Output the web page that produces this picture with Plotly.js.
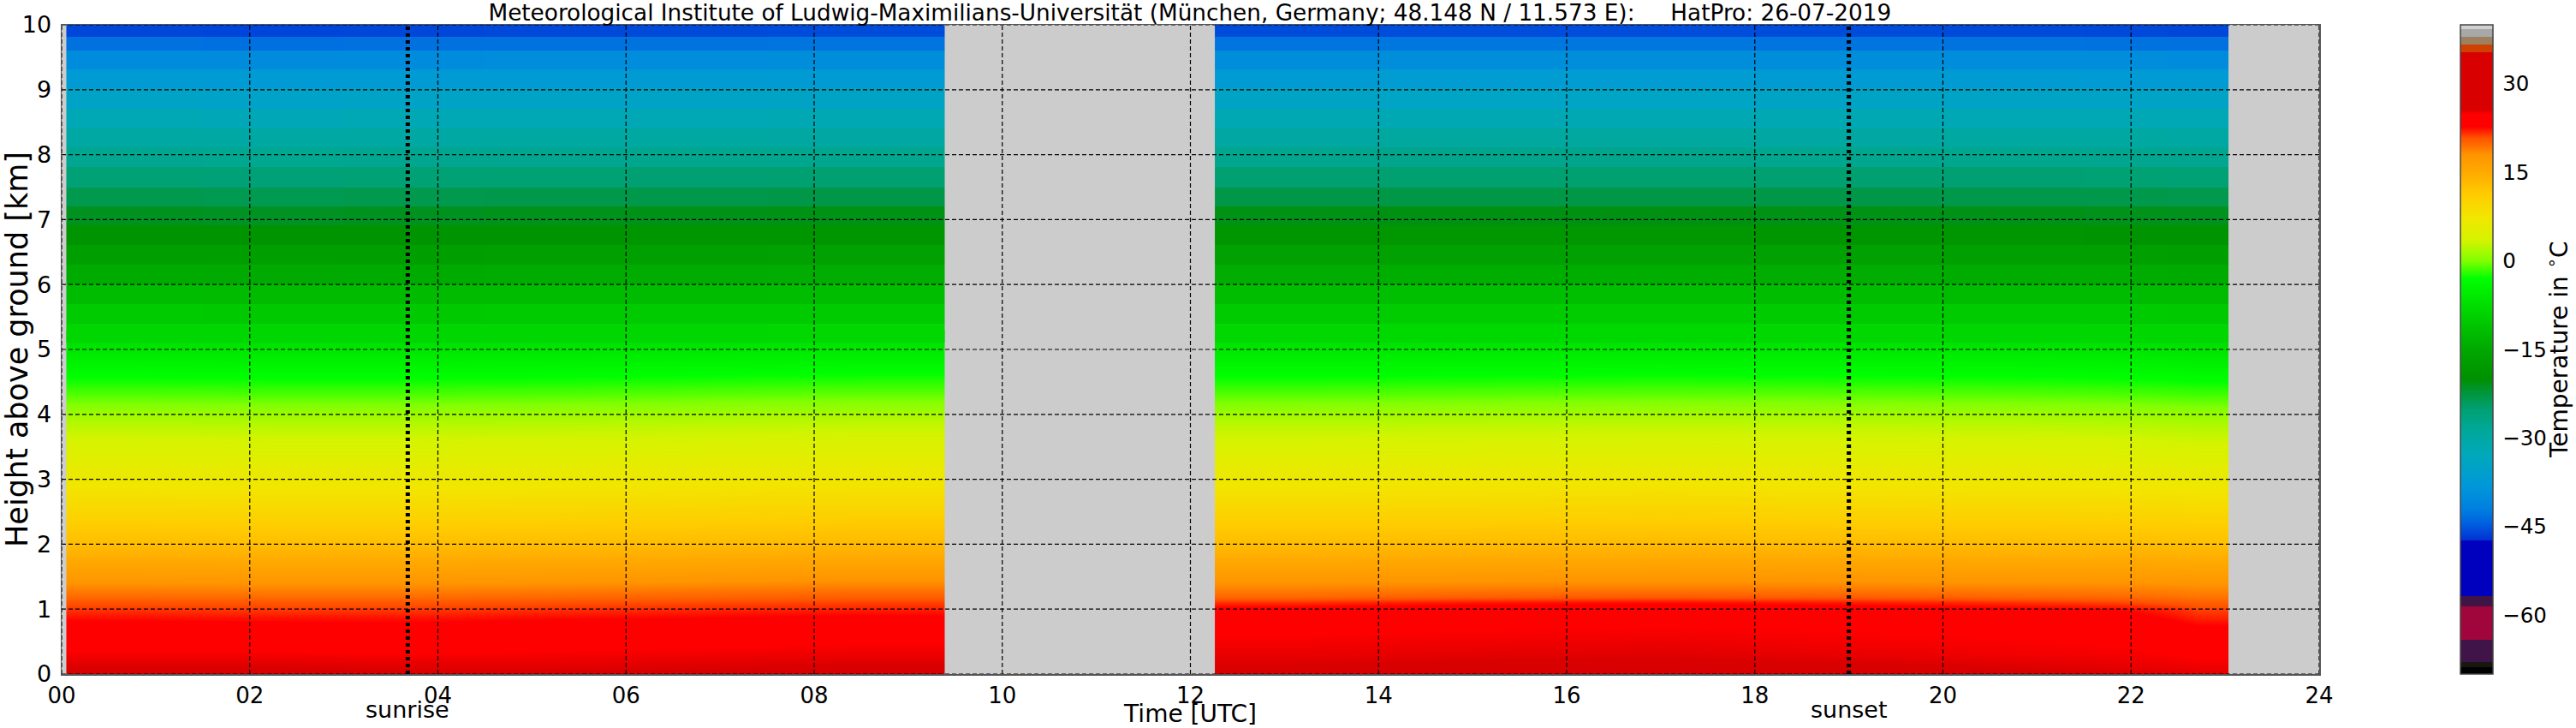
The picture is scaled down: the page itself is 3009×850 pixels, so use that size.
<!DOCTYPE html>
<html>
<head>
<meta charset="utf-8">
<script src="https://cdn.plot.ly/plotly-3.0.1.min.js"></script>
<style>html,body{margin:0;padding:0;background:#fff;}</style>
</head>
<body>
<div id="chart" style="width:3009px;height:850px;"></div>
<script>
// ---------------- DATA ----------------
const titleText = 'Meteorological Institute of Ludwig-Maximilians-Universität (München, Germany; 48.148 N / 11.573 E):\u00a0\u00a0\u00a0\u00a0\u00a0HatPro: 26-07-2019';
const colorbarTitle = 'Temperature in <sup>∘</sup>C';

// time column edges [UTC hours] of the two measurement periods
const seg1Edges = [0.05, 1.5, 3.0, 4.5, 6.0, 7.5, 9.39];
const seg2Edges = [12.26, 14.0, 16.0, 18.0, 20.0, 21.5, 22.4, 23.04];

// lower troposphere: level centres [km] (smooth shading)
const lowHeights = [0.0, 0.15, 0.3, 0.5, 0.7, 0.85, 1.0, 1.1, 1.2, 1.35, 1.5, 1.75, 2.0, 2.5, 3.0, 3.5, 3.9, 4.3, 4.7, 5.1];
// upper troposphere: band edges [km]
const highEdges = [5.1, 5.4, 5.7, 6.0, 6.3, 6.61, 6.91, 7.2, 7.5, 7.81, 8.12, 8.4, 8.71, 9.02, 9.31, 9.61, 9.81, 10.0];

// temperature [°C], rows = heights, columns = time columns
const seg1Low = [
  [25.9, 25.9, 25.7, 25.7, 25.8, 26.0],
  [25.5, 25.5, 25.4, 25.4, 25.5, 25.6],
  [25.0, 25.0, 24.9, 25.0, 25.1, 25.2],
  [24.4, 24.3, 24.2, 24.4, 24.6, 24.8],
  [23.4, 23.3, 23.2, 23.4, 23.7, 23.9],
  [22.5, 22.4, 22.4, 22.6, 22.8, 23.0],
  [21.5, 21.4, 21.4, 21.6, 21.8, 22.0],
  [20.7, 20.6, 20.6, 20.8, 21.0, 21.2],
  [19.7, 19.6, 19.6, 19.8, 20.0, 20.2],
  [18.4, 18.3, 18.3, 18.4, 18.6, 18.8],
  [17.1, 17.0, 17.0, 17.1, 17.3, 17.5],
  [15.1, 15.0, 15.0, 15.1, 15.3, 15.5],
  [12.9, 12.8, 12.8, 12.9, 13.1, 13.3],
  [9.8, 9.7, 9.7, 9.8, 10.0, 10.2],
  [6.8, 6.7, 6.7, 6.8, 7.0, 7.2],
  [4.2, 4.1, 4.1, 4.2, 4.4, 4.6],
  [2.0, 1.9, 1.9, 2.0, 2.2, 2.4],
  [-1.0, -1.1, -1.1, -1.0, -0.8, -0.6],
  [-3.9, -4.0, -4.0, -3.9, -3.7, -3.5],
  [-7.0, -7.1, -7.1, -7.0, -6.9, -6.7]
];
const seg2Low = [
  [25.9, 26.2, 26.4, 26.1, 25.8, 25.6, 25.4],
  [25.6, 25.8, 25.9, 25.7, 25.5, 25.3, 25.1],
  [25.3, 25.4, 25.5, 25.3, 25.1, 25.0, 24.7],
  [25.0, 25.1, 25.2, 25.0, 24.9, 24.7, 24.1],
  [24.7, 24.8, 24.9, 24.8, 24.6, 24.1, 23.0],
  [24.2, 24.4, 24.5, 24.3, 24.0, 23.3, 22.0],
  [23.2, 23.6, 23.8, 23.5, 23.0, 22.5, 21.2],
  [21.6, 22.2, 22.4, 22.1, 21.6, 21.1, 20.2],
  [19.8, 20.2, 20.4, 20.2, 19.9, 19.7, 19.3],
  [18.4, 18.6, 18.7, 18.6, 18.5, 18.4, 18.2],
  [17.2, 17.3, 17.4, 17.3, 17.2, 17.1, 16.9],
  [15.2, 15.3, 15.4, 15.3, 15.2, 15.1, 14.9],
  [13.0, 13.1, 13.2, 13.1, 13.0, 12.9, 12.7],
  [9.9, 10.0, 10.1, 10.0, 9.9, 9.8, 9.5],
  [6.9, 7.0, 7.1, 7.0, 6.9, 6.7, 6.4],
  [4.3, 4.4, 4.5, 4.4, 4.3, 4.1, 3.8],
  [2.1, 2.2, 2.3, 2.2, 2.1, 1.9, 1.6],
  [-0.9, -0.8, -0.7, -0.8, -0.9, -1.1, -1.4],
  [-3.8, -3.7, -3.6, -3.7, -3.8, -4.0, -4.3],
  [-6.9, -6.8, -6.7, -6.8, -6.9, -7.1, -7.4]
];
const seg1High = [
  [-8.5, -8.6, -8.6, -8.5, -8.4, -8.3],
  [-10.2, -10.3, -10.3, -10.2, -10.1, -10.0],
  [-12.2, -12.3, -12.3, -12.2, -12.1, -12.0],
  [-14.6, -14.7, -14.6, -14.5, -14.4, -14.3],
  [-16.8, -16.9, -16.8, -16.7, -16.6, -16.5],
  [-19.0, -19.2, -19.0, -18.9, -18.8, -18.7],
  [-21.2, -21.4, -21.2, -21.0, -20.9, -20.8],
  [-23.3, -23.4, -23.3, -23.2, -23.1, -23.0],
  [-25.4, -25.5, -25.4, -25.3, -25.2, -25.1],
  [-27.8, -27.9, -27.8, -27.7, -27.6, -27.5],
  [-29.9, -30.0, -29.9, -29.8, -29.7, -29.6],
  [-32.3, -32.4, -32.3, -32.2, -32.1, -32.0],
  [-34.8, -34.9, -34.8, -34.7, -34.6, -34.5],
  [-37.3, -37.4, -37.3, -37.2, -37.1, -37.0],
  [-40.0, -40.1, -40.0, -39.9, -39.8, -39.7],
  [-43.2, -43.3, -43.2, -43.1, -43.0, -42.9],
  [-46.0, -46.1, -46.0, -45.9, -45.8, -45.7]
];
const seg2High = [
  [-8.3, -8.2, -8.2, -8.3, -8.4, -8.5, -8.6],
  [-10.0, -9.9, -9.9, -10.0, -10.1, -10.2, -10.3],
  [-12.0, -11.9, -11.9, -12.0, -12.1, -12.2, -12.3],
  [-14.3, -14.2, -14.2, -14.3, -14.4, -14.5, -14.6],
  [-16.5, -16.4, -16.4, -16.5, -16.6, -16.7, -16.8],
  [-18.7, -18.6, -18.6, -18.7, -18.8, -18.9, -19.0],
  [-20.8, -20.7, -20.7, -20.8, -20.9, -21.0, -21.1],
  [-23.0, -22.9, -22.9, -23.0, -23.1, -23.2, -23.3],
  [-25.1, -25.0, -25.0, -25.1, -25.2, -25.3, -25.4],
  [-27.5, -27.4, -27.4, -27.5, -27.6, -27.7, -27.8],
  [-29.6, -29.5, -29.5, -29.6, -29.7, -29.8, -29.9],
  [-32.0, -31.9, -31.9, -32.0, -32.1, -32.2, -32.3],
  [-34.5, -34.4, -34.4, -34.5, -34.6, -34.7, -34.8],
  [-37.0, -36.9, -36.9, -37.0, -37.1, -37.2, -37.3],
  [-39.7, -39.6, -39.6, -39.7, -39.8, -39.9, -40.0],
  [-42.9, -42.8, -42.8, -42.9, -43.0, -43.1, -43.2],
  [-45.7, -45.6, -45.6, -45.7, -45.8, -45.9, -46.0]
];

// sunrise / sunset [UTC hours]
const sunTimes = [3.68, 19.0];
const sunLabels = ['sunrise', 'sunset'];

// axis ticks
const xTickVals = [0, 2, 4, 6, 8, 10, 12, 14, 16, 18, 20, 22, 24];
const xTickText = ['00', '02', '04', '06', '08', '10', '12', '14', '16', '18', '20', '22', '24'];
const yTickVals = [0, 1, 2, 3, 4, 5, 6, 7, 8, 9, 10];
const cbTickVals = [-60, -45, -30, -15, 0, 15, 30];

// colour table (temperature -> colour)
const cbMin = -70, cbMax = 40;
const cbTemps = [-70, -68.9, -68.9, -67.9, -67.9, -64.2, -64.2, -58.5, -58.5, -56.8, -56.8, -47.4, -47.4, -46.4, -44.5, -42, -38, -33, -28.5, -25, -22, -20, -15, -11, -3, 0, 3.5, 7.4, 11.2, 15, 18, 19.5, 20.9, 22.7, 24.8, 25.7, 35.3, 35.3, 36.6, 36.6, 37.9, 37.9, 39.3, 39.3, 40];
const cbColors = ['#000000', '#000000', '#181810', '#181810', '#401448', '#401448', '#a0063c', '#a0063c', '#401444', '#401444', '#0000bf', '#0000bf', '#0030cc', '#0040d8', '#0060de', '#0080e0', '#0098d8', '#00a8bc', '#00a898', '#00a070', '#009434', '#009000', '#00a800', '#00c400', '#00ff00', '#80ff00', '#d4f400', '#f2e600', '#ffcc00', '#ffaa00', '#ff9400', '#ff7000', '#ff5000', '#ff0000', '#ff0000', '#d80000', '#d80000', '#d04000', '#d04000', '#9c8060', '#9c8060', '#a8a8a8', '#a8a8a8', '#d0d0d0', '#d0d0d0'];

// ---------------- BUILD ----------------
const colorscale = cbTemps.map((t, i) => [(t - cbMin) / (cbMax - cbMin), cbColors[i]]);

function hm(x, y, z, smooth) {
  return {type: 'heatmap', x: x, y: y, z: z, coloraxis: 'coloraxis',
          zsmooth: smooth ? 'best' : false, hoverinfo: 'skip'};
}
const traces = [
  hm(seg1Edges, lowHeights, seg1Low, true),
  hm(seg2Edges, lowHeights, seg2Low, true),
  hm(seg1Edges, highEdges, seg1High, false),
  hm(seg2Edges, highEdges, seg2High, false)
];
sunTimes.forEach(t => traces.push({
  type: 'scatter', mode: 'lines', x: [t, t], y: [0, 10],
  line: {color: '#000', width: 5, dash: '4px,4px'}, hoverinfo: 'skip', showlegend: false
}));

const gridLine = {color: '#000', width: 1.2, dash: '5px,3px'};
const shapes = [];
xTickVals.forEach(v => shapes.push({type: 'line', layer: 'above', xref: 'x', yref: 'paper', x0: v, x1: v, y0: 0, y1: 1, line: gridLine}));
yTickVals.forEach(v => shapes.push({type: 'line', layer: 'above', xref: 'paper', yref: 'y', x0: 0, x1: 1, y0: v, y1: v, line: gridLine}));

const annotations = sunTimes.map((t, i) => ({
  text: sunLabels[i], x: t, xref: 'x', y: -0.055, yref: 'paper',
  xanchor: 'center', yanchor: 'middle', showarrow: false, font: {size: 27}
}));
// colour-bar title, placed beside the tick labels
annotations.push({
  text: colorbarTitle, textangle: -90, x: (2987 - 72) / 2637, xref: 'paper', y: 0.5, yref: 'paper',
  xanchor: 'center', yanchor: 'middle', showarrow: false, font: {size: 28}
});

const font = 'DejaVu Sans, sans-serif';
const layout = {
  width: 3009, height: 850,
  margin: {l: 72, r: 300, t: 29, b: 63, pad: 0, autoexpand: false},
  paper_bgcolor: '#ffffff',
  plot_bgcolor: '#cccccc',
  font: {family: font, size: 26, color: '#000'},
  showlegend: false,
  title: {text: titleText, x: 0.4619, xref: 'container', xanchor: 'center',
          y: 1 - 15 / 850, yref: 'container', yanchor: 'middle', font: {family: font, size: 26.3, color: '#000'}},
  xaxis: {range: [0, 24], tickvals: xTickVals, ticktext: xTickText, showgrid: false, zeroline: false,
          showline: true, mirror: true, linecolor: '#555', linewidth: 1.5, ticks: '', ticklabelstandoff: 1,
          tickfont: {size: 26}, title: {text: 'Time [UTC]', standoff: 0, font: {size: 28}}, fixedrange: true},
  yaxis: {range: [0, 10], tickvals: yTickVals, showgrid: false, zeroline: false,
          showline: true, mirror: true, linecolor: '#555', linewidth: 1.5, ticks: '', ticklabelstandoff: 5,
          tickfont: {size: 27}, title: {text: 'Height above ground [km]', standoff: 2, font: {size: 35}}, fixedrange: true},
  coloraxis: {
    cmin: cbMin, cmax: cbMax, colorscale: colorscale,
    colorbar: {x: (2874 - 72) / 2637, xanchor: 'left', xref: 'paper', xpad: 0, ypad: 0,
               y: 0.5, yanchor: 'middle', len: 1, lenmode: 'fraction', thickness: 38, thicknessmode: 'pixels',
               outlinewidth: 1.5, outlinecolor: '#444', tickvals: cbTickVals, ticks: 'outside', ticklen: 6,
               tickcolor: 'rgba(0,0,0,0)', tickfont: {family: font, size: 24.5}}
  },
  shapes: shapes,
  annotations: annotations
};

Plotly.newPlot('chart', traces, layout, {staticPlot: true, displayModeBar: false});
</script>
</body>
</html>
